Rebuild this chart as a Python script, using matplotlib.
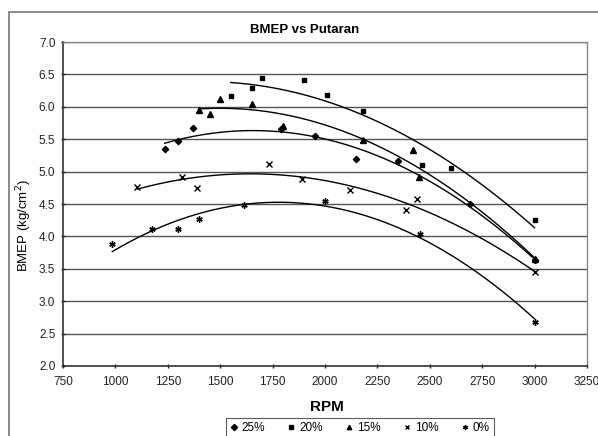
import numpy as np
import matplotlib.pyplot as plt
from matplotlib.patches import Rectangle

plt.rcParams['font.family'] = ['Liberation Sans', 'DejaVu Sans']

# BMEP (kg/cm2) vs engine speed, per load level
rpm_25 = [1235, 1300, 1372, 1790, 1950, 2150, 2350, 2690, 3000]
bmep_25 = [5.35, 5.47, 5.68, 5.65, 5.55, 5.20, 5.17, 4.50, 3.63]

rpm_20 = [1550, 1650, 1700, 1900, 2010, 2180, 2465, 2600, 3000]
bmep_20 = [6.17, 6.29, 6.45, 6.41, 6.18, 5.94, 5.10, 5.06, 4.26]

rpm_15 = [1400, 1450, 1500, 1650, 1800, 2180, 2420, 2450, 3000]
bmep_15 = [5.95, 5.89, 6.12, 6.05, 5.70, 5.48, 5.33, 4.92, 3.65]

rpm_10 = [1105, 1320, 1390, 1735, 1890, 2120, 2385, 2440, 3000]
bmep_10 = [4.77, 4.92, 4.75, 5.12, 4.88, 4.72, 4.41, 4.58, 3.45]

rpm_0 = [985, 1175, 1300, 1400, 1615, 2000, 2455, 3000]
bmep_0 = [3.88, 4.11, 4.11, 4.27, 4.48, 4.55, 4.04, 2.68]

labels = ['25%', '20%', '15%', '10%', '0%']
series = [(rpm_25, bmep_25), (rpm_20, bmep_20), (rpm_15, bmep_15),
          (rpm_10, bmep_10), (rpm_0, bmep_0)]
markers = ['D', 's', '^', 'x', (6, 2, 0)]
msizes = [3.2, 3.4, 3.8, 4.0, 4.5]

fig = plt.figure(figsize=(5.98, 4.36), dpi=100)
ax = fig.add_axes([63 / 598, 1 - 366 / 436, 524 / 598, 324 / 436])

# chart area border (Excel style)
fig.patches.append(Rectangle((9 / 598, -0.01), 0.99, 1 - 12 / 436 + 0.01,
                             transform=fig.transFigure, fill=False,
                             edgecolor='#777777', linewidth=1.2))

for (x, y), lab, m, ms in zip(series, labels, markers, msizes):
    x = np.asarray(x, dtype=float)
    y = np.asarray(y, dtype=float)
    ax.plot(x, y, linestyle='none', marker=m, markersize=ms, color='black',
            markeredgewidth=1.0, label=lab, zorder=3)
    # 2nd order polynomial trendline
    coef = np.polyfit(x, y, 2)
    xs = np.linspace(x.min(), x.max(), 200)
    ax.plot(xs, np.polyval(coef, xs), color='black', linewidth=1.0, zorder=2)

ax.set_xlim(750, 3250)
ax.set_ylim(2.0, 7.0)
ax.set_xticks(np.arange(750, 3251, 250))
ax.set_yticks(np.arange(2.0, 7.01, 0.5))
ax.yaxis.set_major_formatter(plt.FormatStrFormatter('%.1f'))
ax.grid(axis='y', color='#555555', linewidth=1.0)
ax.set_axisbelow(True)
for side in ['left', 'bottom']:
    ax.spines[side].set_color('#333333')
    ax.spines[side].set_linewidth(1.2)
for side in ['top', 'right']:
    ax.spines[side].set_color('#888888')
    ax.spines[side].set_linewidth(1.0)
ax.tick_params(axis='both', labelsize=8.5, colors='#222222', length=3,
               direction='inout', width=1)
ax.tick_params(axis='x', pad=6)
ax.tick_params(axis='y', pad=4)

fig.text(305 / 598, 1 - 30 / 436, 'BMEP vs Putaran', ha='center', va='center',
         fontsize=9.5, fontweight='bold')
fig.text(327 / 598, 1 - 407 / 436, 'RPM', ha='center', va='center',
         fontsize=11, fontweight='bold')
fig.text(24 / 598, 1 - 226 / 436, 'BMEP (kg/cm$^2$)', ha='center', va='center',
         rotation=90, fontsize=9.5)

leg = fig.legend(loc='center', bbox_to_anchor=(360 / 598, 1 - 428 / 436),
                 ncol=5, fontsize=8.5, frameon=True, fancybox=False,
                 handlelength=0.6, handletextpad=0.4, columnspacing=1.9,
                 borderpad=0.3, borderaxespad=0)
leg.get_frame().set_edgecolor('#333333')
leg.get_frame().set_linewidth(0.8)
for h in leg.legend_handles:
    h.set_markersize(3.2)

fig.savefig('out.png', dpi=100)
